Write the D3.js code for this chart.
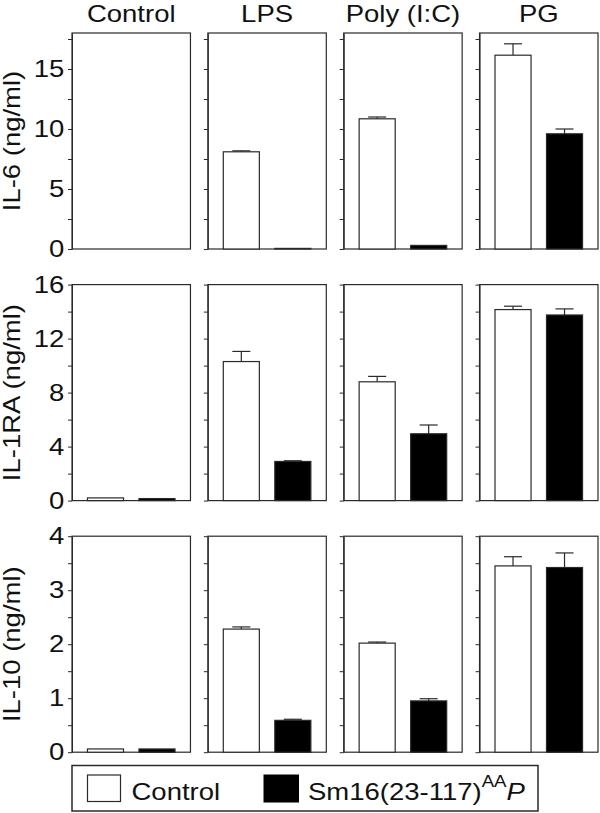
<!DOCTYPE html>
<html>
<head>
<meta charset="utf-8">
<script src="https://cdn.jsdelivr.net/npm/d3@7"></script>
<style>
  body { margin: 0; background: #fff; }
  text { font-family: "Liberation Sans", Arial, sans-serif; fill: #111; }
</style>
</head>
<body>
<svg id="chart" width="600" height="813"></svg>
<script>
const treatments = ["Control", "LPS", "Poly (I:C)", "PG"];
const groups = ["Control", "Sm16"];
const cytokines = ["IL-6 (ng/ml)", "IL-1RA (ng/ml)", "IL-10 (ng/ml)"];
const yMaxes = [18, 16, 4];
const majorSteps = [5, 4, 1];
const minorSteps = [2.5, 2, 0.5];

// rows: cytokine, columns: treatment
const controlMeans = [
    [0, 8.1, 10.85, 16.15],
    [0.2, 10.3, 8.8, 14.15],
    [0.06, 2.28, 2.02, 3.45]
];
const controlErrs = [
    [0, 0.08, 0.15, 0.95],
    [0, 0.75, 0.4, 0.25],
    [0, 0.04, 0.02, 0.17]
];
const sm16Means = [
    [0, 0.05, 0.3, 9.6],
    [0.15, 2.9, 4.95, 13.75],
    [0.06, 0.59, 0.95, 3.42]
];
const sm16Errs = [
    [0, 0, 0, 0.4],
    [0, 0.05, 0.65, 0.45],
    [0, 0.02, 0.04, 0.27]
];

const svg = d3.select('#chart');
const stretch = 1.17;
const fontSize = 23.5;
const lineColor = '#2a2a2a';

const panelX = d3.scaleBand().domain(treatments).range([72, 598]).paddingInner(0.128);
const panelW = panelX.bandwidth();
const panelH = 216;
const rowTop = (i) => 33 + i * 251.6;

const barX = d3.scaleBand().domain(groups).range([0, panelW]).paddingInner(0.3).paddingOuter(0.3);

function stretchedText(parent, x, y, str, rotate) {
    return parent.append('text')
        .attr('transform', `translate(${x},${y})` + (rotate ? ` rotate(${rotate})` : '') + ` scale(${stretch},1)`)
        .attr('font-size', fontSize)
        .text(str);
}

// column titles
treatments.forEach((t) => {
    stretchedText(svg, panelX(t) + panelW / 2, 22, t).attr('text-anchor', 'middle');
});

cytokines.forEach((label, r) => {
    const top = rowTop(r);
    const y = d3.scaleLinear().domain([0, yMaxes[r]]).range([panelH, 0]);
    const ticks = d3.range(0, yMaxes[r] + 1e-9, minorSteps[r]);

    stretchedText(svg, 20, top + panelH / 2, label, -90).attr('text-anchor', 'middle');

    treatments.forEach((t, c) => {
        const g = svg.append('g').attr('transform', `translate(${panelX(t)},${top})`);

        const axis = d3.axisLeft(y)
            .tickValues(ticks)
            .tickSize(4)
            .tickSizeOuter(0)
            .tickPadding(2.6)
            .tickFormat((d) => (c === 0 && Math.abs(d / majorSteps[r] - Math.round(d / majorSteps[r])) < 1e-9) ? d3.format('d')(d) : '');
        const ax = g.append('g').call(axis);
        ax.selectAll('line, path').attr('stroke', lineColor);
        ax.selectAll('text')
            .attr('font-size', fontSize)
            .attr('font-family', '"Liberation Sans", Arial, sans-serif')
            .attr('fill', '#111')
            .attr('transform', `scale(${stretch},1)`);

        g.append('rect')
            .attr('x', 0).attr('y', 0)
            .attr('width', panelW).attr('height', panelH)
            .attr('fill', 'none')
            .attr('stroke', lineColor)
            .attr('stroke-width', 1.2);

        const bars = [
            { group: 'Control', mean: controlMeans[r][c], err: controlErrs[r][c], fill: '#fff' },
            { group: 'Sm16', mean: sm16Means[r][c], err: sm16Errs[r][c], fill: '#000' }
        ];

        bars.forEach((b) => {
            if (b.mean <= 0) return;
            const cx = barX(b.group) + barX.bandwidth() / 2;
            if (b.err > 0) {
                g.append('line')
                    .attr('x1', cx).attr('x2', cx)
                    .attr('y1', y(b.mean)).attr('y2', y(b.mean + b.err))
                    .attr('stroke', lineColor).attr('stroke-width', 1.2);
                g.append('line')
                    .attr('x1', cx - barX.bandwidth() / 4).attr('x2', cx + barX.bandwidth() / 4)
                    .attr('y1', y(b.mean + b.err)).attr('y2', y(b.mean + b.err))
                    .attr('stroke', lineColor).attr('stroke-width', 1.2);
            }
            g.append('rect')
                .attr('x', barX(b.group))
                .attr('y', y(b.mean))
                .attr('width', barX.bandwidth())
                .attr('height', panelH - y(b.mean))
                .attr('fill', b.fill)
                .attr('stroke', lineColor)
                .attr('stroke-width', 1.2);
        });
    });
});

// legend
const legend = svg.append('g');
legend.append('rect')
    .attr('x', 72).attr('y', 765.5).attr('width', 466).attr('height', 45.5)
    .attr('fill', 'none').attr('stroke', lineColor).attr('stroke-width', 1.5);
legend.append('rect')
    .attr('x', 87.5).attr('y', 775).attr('width', 33).attr('height', 26.5)
    .attr('fill', '#fff').attr('stroke', lineColor).attr('stroke-width', 1.2);
stretchedText(legend, 131.5, 800, 'Control');
legend.append('rect')
    .attr('x', 263.5).attr('y', 774.5).attr('width', 35.5).attr('height', 28)
    .attr('fill', '#000');
const smText = stretchedText(legend, 308, 800, 'Sm16(23-117)');
smText.append('tspan').attr('font-size', 16).attr('dy', -13).text('AA');
smText.append('tspan').attr('font-style', 'italic').attr('dy', 13).text('P');
</script>
</body>
</html>
